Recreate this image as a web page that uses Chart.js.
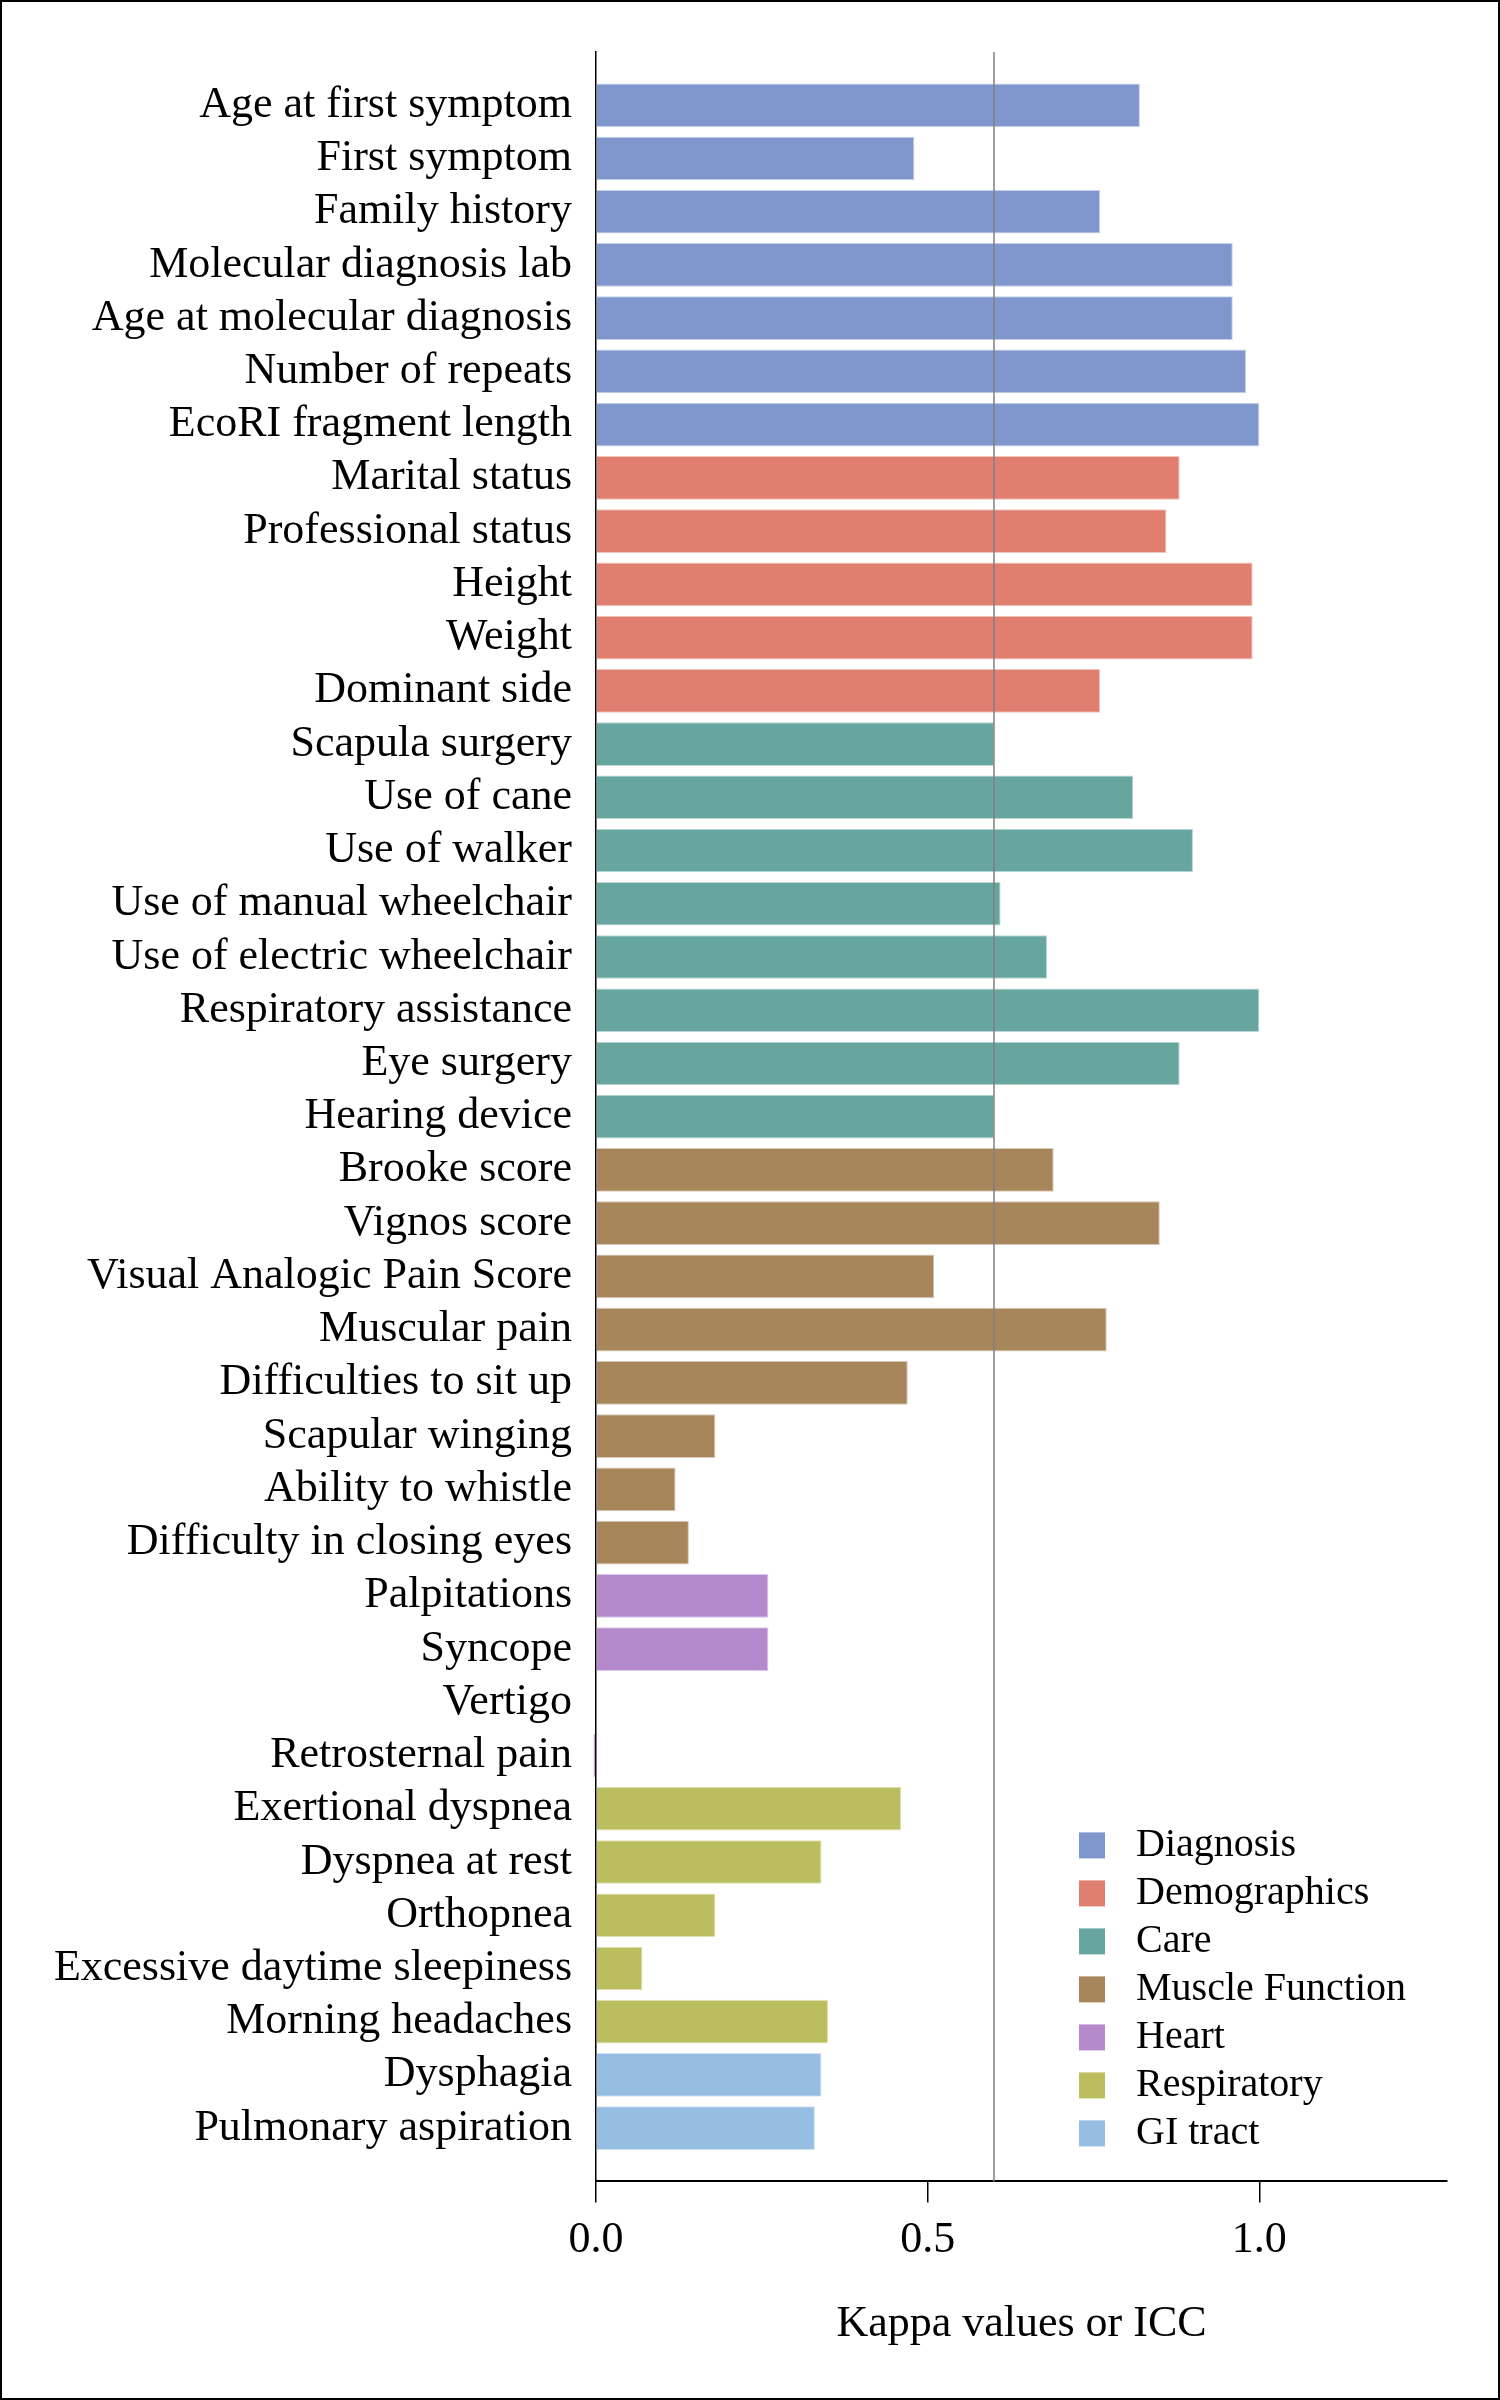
<!DOCTYPE html>
<html>
<head>
<meta charset="utf-8">
<title>Kappa values or ICC</title>
<script src="https://cdn.jsdelivr.net/npm/chart.js@4/dist/chart.umd.min.js"></script>
<style>
  html, body { margin: 0; padding: 0; background: #fff; }
  #chart { display: block; outline: 2px solid #000; outline-offset: -2px; }
</style>
</head>
<body>
<canvas id="chart" width="1500" height="2400"></canvas>
<script>
// items, top to bottom
const CATEGORIES = [
  'Age at first symptom', 'First symptom', 'Family history', 'Molecular diagnosis lab',
  'Age at molecular diagnosis', 'Number of repeats', 'EcoRI fragment length',
  'Marital status', 'Professional status', 'Height', 'Weight', 'Dominant side',
  'Scapula surgery', 'Use of cane', 'Use of walker', 'Use of manual wheelchair',
  'Use of electric wheelchair', 'Respiratory assistance', 'Eye surgery', 'Hearing device',
  'Brooke score', 'Vignos score', 'Visual Analogic Pain Score', 'Muscular pain',
  'Difficulties to sit up', 'Scapular winging', 'Ability to whistle', 'Difficulty in closing eyes',
  'Palpitations', 'Syncope', 'Vertigo', 'Retrosternal pain',
  'Exertional dyspnea', 'Dyspnea at rest', 'Orthopnea', 'Excessive daytime sleepiness',
  'Morning headaches',
  'Dysphagia', 'Pulmonary aspiration'
];

const KAPPA = [
  0.82, 0.48, 0.76, 0.96, 0.96, 0.98, 1.00,
  0.88, 0.86, 0.99, 0.99, 0.76,
  0.60, 0.81, 0.90, 0.61, 0.68, 1.00, 0.88, 0.60,
  0.69, 0.85, 0.51, 0.77, 0.47, 0.18, 0.12, 0.14,
  0.26, 0.26, 0.00, -0.004,
  0.46, 0.34, 0.18, 0.07, 0.35,
  0.34, 0.33
];

const GROUPS = ['Diagnosis', 'Demographics', 'Care', 'Muscle Function', 'Heart', 'Respiratory', 'GI tract'];
const GROUP_SIZES = [7, 5, 8, 8, 4, 5, 2];
const GROUP_COLORS = ['#7f97cc', '#e07f6f', '#67a69f', '#a8865c', '#b589cb', '#bbbe5e', '#96bde2'];

const X_TICKS = [0, 0.5, 1.0];
const REFERENCE = 0.6;

const FONT = '"Liberation Serif", "Times New Roman", serif';

// lighter edge like the original bars
function edge(hex) {
  const n = parseInt(hex.slice(1), 16);
  return `rgba(${n >> 16}, ${(n >> 8) & 255}, ${n & 255}, 0.45)`;
}

let start = 0;
const datasets = GROUPS.map((name, g) => {
  const data = [];
  for (let i = start; i < start + GROUP_SIZES[g]; i++) {
    data.push({ x: KAPPA[i], y: i });
  }
  start += GROUP_SIZES[g];
  return {
    label: name,
    data,
    backgroundColor: GROUP_COLORS[g],
    borderColor: edge(GROUP_COLORS[g]),
    borderWidth: 1,
    clip: false,
  };
});

// grey vertical line at kappa = 0.6
const referenceLine = {
  id: 'referenceLine',
  afterDatasetsDraw(chart) {
    const { ctx, chartArea, scales } = chart;
    const x = scales.x.getPixelForValue(REFERENCE);
    ctx.save();
    ctx.strokeStyle = '#808080';
    ctx.lineWidth = 1.5;
    ctx.beginPath();
    ctx.moveTo(x, chartArea.top);
    ctx.lineTo(x, chartArea.bottom);
    ctx.stroke();
    ctx.restore();
  }
};

// legend sits inside the plot, lower right
const insideLegend = {
  id: 'insideLegend',
  afterDraw(chart) {
    const { ctx, chartArea } = chart;
    const items = chart.data.datasets;
    const box = 26, gap = 31, row = 48;
    ctx.save();
    ctx.font = '40px ' + FONT;
    const textW = Math.max(...items.map(d => ctx.measureText(d.label).width));
    const left = chartArea.right - 41 - textW - gap - box;
    let y = chartArea.bottom - 48 - (items.length - 1) * row;
    ctx.textBaseline = 'middle';
    items.forEach(d => {
      ctx.fillStyle = d.backgroundColor;
      ctx.fillRect(left, y - box / 2, box, box);
      ctx.fillStyle = '#000';
      ctx.fillText(d.label, left + box + gap, y);
      y += row;
    });
    ctx.restore();
  }
};

new Chart(document.getElementById('chart'), {
  type: 'bar',
  data: { datasets },
  plugins: [referenceLine, insideLegend],
  options: {
    indexAxis: 'y',
    responsive: false,
    devicePixelRatio: 1,
    animation: false,
    grouped: false,
    categoryPercentage: 0.82,
    barPercentage: 1,
    layout: { padding: { top: 52, right: 53, bottom: 49, left: 0 } },
    plugins: {
      legend: { display: false },
      tooltip: { enabled: false },
    },
    scales: {
      x: {
        type: 'linear',
        min: 0,
        max: 1.283,
        afterBuildTicks: (scale) => { scale.ticks = X_TICKS.map(v => ({ value: v })); },
        ticks: {
          color: '#000',
          padding: 12,
          font: { family: FONT, size: 44 },
          callback: (v) => v.toFixed(1),
        },
        grid: {
          display: true,
          drawOnChartArea: false,
          drawTicks: true,
          tickLength: 21,
          color: '#000',
          lineWidth: 1.5,
        },
        border: { display: true, color: '#000', width: 2 },
        title: {
          display: true,
          text: 'Kappa values or ICC',
          color: '#000',
          font: { family: FONT, size: 44 },
          padding: { top: 19, bottom: 0 },
        },
      },
      y: {
        type: 'linear',
        reverse: true,
        offset: false,
        min: -1,
        max: CATEGORIES.length,
        afterBuildTicks: (scale) => { scale.ticks = CATEGORIES.map((_, i) => ({ value: i })); },
        afterFit: (scale) => { scale.width = 596; },
        ticks: {
          color: '#000',
          padding: 24,
          autoSkip: false,
          font: { family: FONT, size: 44 },
          callback: (v) => CATEGORIES[v] ?? '',
        },
        grid: { display: true, drawOnChartArea: false, drawTicks: false },
        border: { display: true, color: '#000', width: 1.5 },
      },
    },
  },
});
</script>
</body>
</html>
